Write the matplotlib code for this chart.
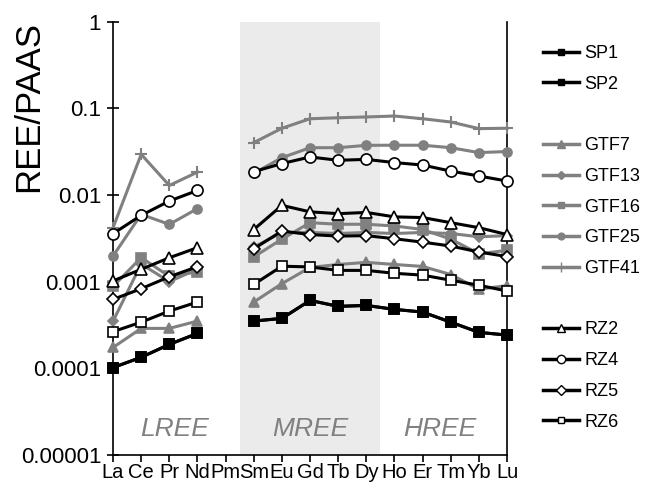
import numpy as np
import matplotlib
matplotlib.use("Agg")
import matplotlib.pyplot as plt
from matplotlib.lines import Line2D
from matplotlib.ticker import FixedLocator, NullLocator

plt.rcParams['font.family'] = ['Liberation Sans', 'DejaVu Sans']

# REE order (Pm has no data)
elements = ["La", "Ce", "Pr", "Nd", "Pm", "Sm", "Eu", "Gd", "Tb", "Dy", "Ho", "Er", "Tm", "Yb", "Lu"]
nan = np.nan

sp1 = [0.000102, 0.000134, 0.000189, 0.000253, nan, 0.000351, 0.000377, 0.000608, 0.000519, 0.000532,
       0.000479, 0.000446, 0.000341, 0.000260, 0.000242]
sp2 = [0.000102, 0.000134, 0.000189, 0.000253, nan, 0.000351, 0.000377, 0.000608, 0.000519, 0.000532,
       0.000479, 0.000446, 0.000341, 0.000260, 0.000242]

gtf7 = [0.000174, 0.000289, 0.000289, 0.000351, nan, 0.000582, 0.00095, 0.00146, 0.00158, 0.00167,
        0.00158, 0.00150, 0.00121, 0.00082, 0.00090]
gtf13 = [0.00035, 0.0016, 0.0010, 0.0014, nan, 0.0025, 0.0037, 0.0037, 0.0036, 0.0037,
         0.0036, 0.0037, 0.0036, 0.0033, 0.0034]
gtf16 = [0.00088, 0.0019, 0.00115, 0.0013, nan, 0.00193, 0.0031, 0.0048, 0.0046, 0.0046,
         0.0044, 0.0040, 0.0031, 0.0021, 0.0023]
gtf25 = [0.00198, 0.00598, 0.00459, 0.00697, nan, 0.0178, 0.027, 0.0352, 0.0352, 0.0375,
         0.0376, 0.0376, 0.0352, 0.0309, 0.0318]
gtf41 = [0.0042, 0.0295, 0.0129, 0.0184, nan, 0.0403, 0.059, 0.076, 0.078, 0.0797,
         0.0817, 0.076, 0.0697, 0.0585, 0.059]

rz2 = [0.00102, 0.00139, 0.00189, 0.00247, nan, 0.0040, 0.0076, 0.0064, 0.0061, 0.0063,
       0.0056, 0.0055, 0.0048, 0.0042, 0.0035]
rz4 = [0.00358, 0.00583, 0.00853, 0.0113, nan, 0.0186, 0.0231, 0.0275, 0.0252, 0.0258,
       0.0237, 0.0222, 0.0189, 0.0166, 0.0145]
rz5 = [0.000625, 0.00083, 0.00114, 0.00149, nan, 0.0024, 0.00384, 0.0035, 0.00336, 0.0034,
       0.00313, 0.00286, 0.00258, 0.0022, 0.00195]
rz6 = [0.000265, 0.000341, 0.000458, 0.000582, nan, 0.00093, 0.00151, 0.00148, 0.00135, 0.00135,
       0.00125, 0.00119, 0.00104, 0.00091, 0.00078]

GRAY = "#808080"
x = np.arange(len(elements))

# label, data, color, marker, marker face, marker size
series = [
    ("SP1", sp1, "black", "s", "black", 6.5),
    ("SP2", sp2, "black", "s", "black", 6.5),
    ("GTF7", gtf7, GRAY, "^", GRAY, 7.5),
    ("GTF13", gtf13, GRAY, "D", GRAY, 5.5),
    ("GTF16", gtf16, GRAY, "s", GRAY, 6.5),
    ("GTF25", gtf25, GRAY, "o", GRAY, 6.5),
    ("GTF41", gtf41, GRAY, "+", GRAY, 9),
    ("RZ2", rz2, "black", "^", "white", 8.5),
    ("RZ4", rz4, "black", "o", "white", 8),
    ("RZ5", rz5, "black", "D", "white", 6.5),
    ("RZ6", rz6, "black", "s", "white", 6.5),
]

fig = plt.figure(figsize=(6.47, 4.84), dpi=100)
ax = fig.add_axes([0.1747, 0.060, 0.609, 0.895])

ax.axvspan(4.5, 9.5, color="#ebebeb", zorder=0, lw=0)

for label, vals, col, mk, mfc, ms in series:
    mew = 1.5 if mk == "+" else 1.2
    mec = col if mfc != "white" else "black"
    ax.plot(x, vals, color=col, lw=2.2, marker=mk, markersize=ms,
            markerfacecolor=mfc, markeredgecolor=mec, markeredgewidth=mew,
            clip_on=False, zorder=3)

ax.set_yscale("log")
ax.set_ylim(1e-5, 1)
ax.set_xlim(0, 14)
ax.yaxis.set_major_locator(FixedLocator([1e-5, 1e-4, 1e-3, 1e-2, 1e-1, 1]))
ax.yaxis.set_minor_locator(NullLocator())
ax.set_yticklabels(["0.00001", "0.0001", "0.001", "0.01", "0.1", "1"], fontsize=16)
ax.set_xticks(x)
ax.set_xticklabels(elements, fontsize=14.5)
ax.tick_params(axis="y", direction="inout", length=9, width=1.2, pad=4)
ax.tick_params(axis="x", direction="out", length=5, width=1.2, pad=1)
ax.spines["top"].set_visible(False)
for s in ["left", "right", "bottom"]:
    ax.spines[s].set_linewidth(1.2)
ax.set_ylabel("REE/PAAS", fontsize=25)
ax.yaxis.set_label_coords(-0.1726, 0.805)

for txt, xp in [("LREE", 2.2), ("MREE", 7.0), ("HREE", 11.6)]:
    ax.text(xp, 2.0e-5, txt, fontsize=19, style="italic", color=GRAY,
            ha="center", va="center")

# legend with blank rows between groups
handles, labels = [], []
blank = Line2D([], [], color="none")
for i, (label, vals, col, mk, mfc, ms) in enumerate(series):
    mec = col if mfc != "white" else "black"
    handles.append(Line2D([], [], color=col, lw=2.5, marker=mk, markersize=ms * 0.75,
                          markerfacecolor=mfc, markeredgecolor=mec, markeredgewidth=1.0))
    labels.append(label)
    if label in ("SP2", "GTF41"):
        handles.append(blank)
        labels.append("")
leg = fig.legend(handles, labels, loc="upper left", bbox_to_anchor=(0.828, 0.922),
                 frameon=False, fontsize=13, handlelength=2.0, handletextpad=0.3,
                 labelspacing=0.76, borderaxespad=0)

fig.savefig("out.png", dpi=100)
